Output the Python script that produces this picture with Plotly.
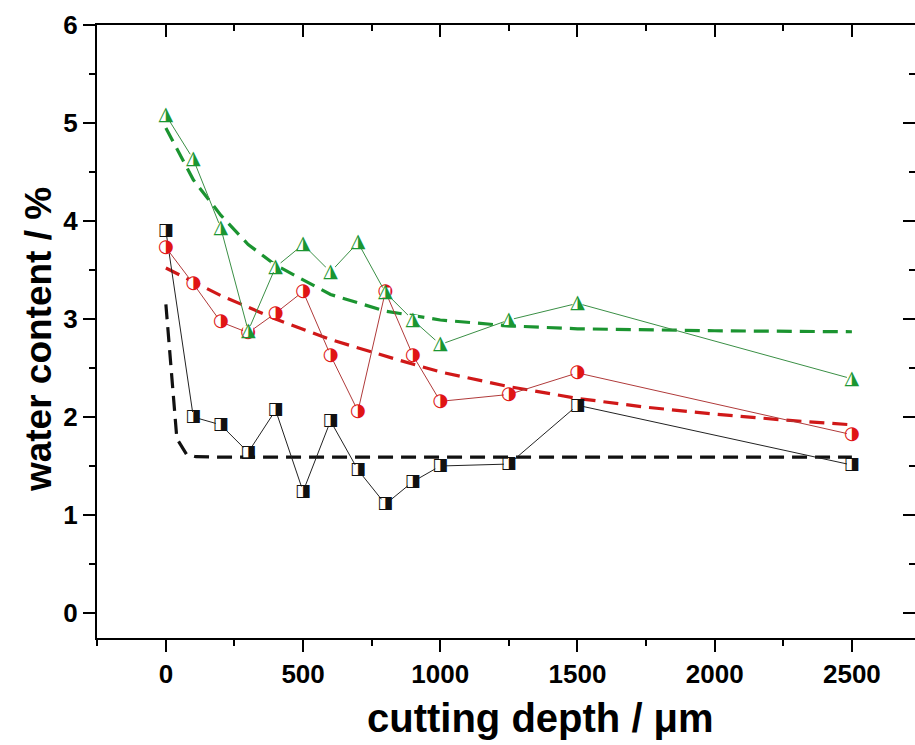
import plotly.graph_objects as go

# ---- data ----
depth = [0, 100, 200, 300, 400, 500, 600, 700, 800, 900, 1000, 1250, 1500, 2500]
series_black = [3.90, 2.00, 1.92, 1.64, 2.07, 1.24, 1.96, 1.46, 1.11, 1.34, 1.50, 1.52, 2.12, 1.51]
series_red = [3.73, 3.36, 2.97, 2.86, 3.06, 3.28, 2.63, 2.06, 3.28, 2.63, 2.16, 2.23, 2.45, 1.82]
series_green = [5.08, 4.63, 3.93, 2.88, 3.53, 3.76, 3.48, 3.78, 3.27, 2.99, 2.74, 2.99, 3.16, 2.39]

fit_black_x = [0, 40, 75, 110, 200, 2500]
fit_black_y = [3.15, 1.78, 1.62, 1.595, 1.59, 1.59]
fit_red_x = [0, 200, 400, 600, 850, 1000, 1250, 1500, 1750, 2000, 2250, 2500]
fit_red_y = [3.52, 3.24, 3.00, 2.79, 2.58, 2.46, 2.31, 2.19, 2.10, 2.03, 1.97, 1.92]
fit_green_x = [0, 100, 200, 300, 400, 600, 800, 1000, 1250, 1500, 2000, 2500]
fit_green_y = [4.95, 4.42, 4.06, 3.76, 3.55, 3.25, 3.08, 2.99, 2.93, 2.90, 2.88, 2.87]

x_ticks = [0, 500, 1000, 1500, 2000, 2500]
y_ticks = [0, 1, 2, 3, 4, 5, 6]

BLACK = "#111111"
RED = "#e01515"
GREEN = "#1a9632"

fig = go.Figure()

# fitted (dashed) curves
for fx, fy, col in [(fit_black_x, fit_black_y, BLACK),
                    (fit_red_x, fit_red_y, "#d01818"),
                    (fit_green_x, fit_green_y, "#1b9430")]:
    fig.add_trace(go.Scatter(x=fx, y=fy, mode="lines",
                             line=dict(color=col, width=3.2, dash="15px,8px"),
                             showlegend=False, hoverinfo="skip"))

# measured series
for ys, lcol, mcol, glyph, gsize in [
        (series_black, "#222222", BLACK, "\u25E8", 17),
        (series_red, "#b03a3a", RED, "\u25D1", 18),
        (series_green, "#3a8f45", GREEN, "\u25EE", 19)]:
    fig.add_trace(go.Scatter(x=depth, y=ys, mode="lines",
                             line=dict(color=lcol, width=1),
                             showlegend=False, hoverinfo="skip"))
    fig.add_trace(go.Scatter(x=depth, y=ys, mode="markers",
                             marker=dict(symbol="square", size=10, color="white"),
                             showlegend=False, hoverinfo="skip"))
    fig.add_trace(go.Scatter(x=depth, y=ys, mode="text",
                             text=[glyph] * len(depth),
                             textposition="middle center",
                             textfont=dict(family="DejaVu Sans", size=gsize, color=mcol),
                             showlegend=False, hoverinfo="skip"))

# dummy trace for mirrored axes
fig.add_trace(go.Scatter(x=[None], y=[None], xaxis="x2", yaxis="y2",
                         showlegend=False, hoverinfo="skip"))

XR = [-251, 2730]
YR = [-0.255, 6.0]
tickfont = dict(family="Liberation Sans, Arial", size=26, color="black", weight="bold")

fig.update_layout(
    width=915, height=745,
    margin=dict(l=97, r=0, t=25, b=107),
    paper_bgcolor="white", plot_bgcolor="white",
    xaxis=dict(range=XR, tickvals=x_ticks, ticks="outside", ticklen=12, tickwidth=2,
               tickcolor="black", showline=True, linewidth=2, linecolor="black",
               showgrid=False, zeroline=False, tickfont=tickfont,
               minor=dict(dtick=250, tick0=0, ticks="outside", ticklen=6,
                          tickwidth=2, tickcolor="black", showgrid=False)),
    yaxis=dict(range=YR, tickvals=y_ticks, ticks="outside", ticklen=12, tickwidth=2,
               tickcolor="black", showline=True, linewidth=2, linecolor="black",
               showgrid=False, zeroline=False, tickfont=tickfont,
               minor=dict(dtick=0.5, tick0=0, ticks="outside", ticklen=6,
                          tickwidth=2, tickcolor="black", showgrid=False)),
    xaxis2=dict(range=XR, overlaying="x", side="top", anchor="y2", tickvals=x_ticks,
                ticks="inside", ticklen=12, tickwidth=2, tickcolor="black",
                showline=True, linewidth=2, linecolor="black", showticklabels=False,
                showgrid=False, zeroline=False,
                minor=dict(dtick=250, tick0=0, ticks="inside", ticklen=6,
                           tickwidth=2, tickcolor="black", showgrid=False)),
    yaxis2=dict(range=YR, overlaying="y", side="right", anchor="x2", tickvals=y_ticks,
                ticks="inside", ticklen=12, tickwidth=2, tickcolor="black",
                showline=True, linewidth=2, linecolor="black", showticklabels=False,
                showgrid=False, zeroline=False,
                minor=dict(dtick=0.5, tick0=0, ticks="inside", ticklen=6,
                           tickwidth=2, tickcolor="black", showgrid=False)),
    annotations=[
        dict(text="cutting depth / \u03bcm", xref="paper", yref="paper",
             x=0.5416, y=-0.1305, xanchor="center", yanchor="middle", showarrow=False,
             font=dict(family="Liberation Sans, Arial", size=40, color="black", weight="bold")),
        dict(text="water content / %", xref="paper", yref="paper",
             x=-0.0721, y=0.486, xanchor="center", yanchor="middle", showarrow=False,
             textangle=-90,
             font=dict(family="Liberation Sans, Arial", size=37, color="black", weight="bold")),
    ],
)

fig.write_html("out.html")
